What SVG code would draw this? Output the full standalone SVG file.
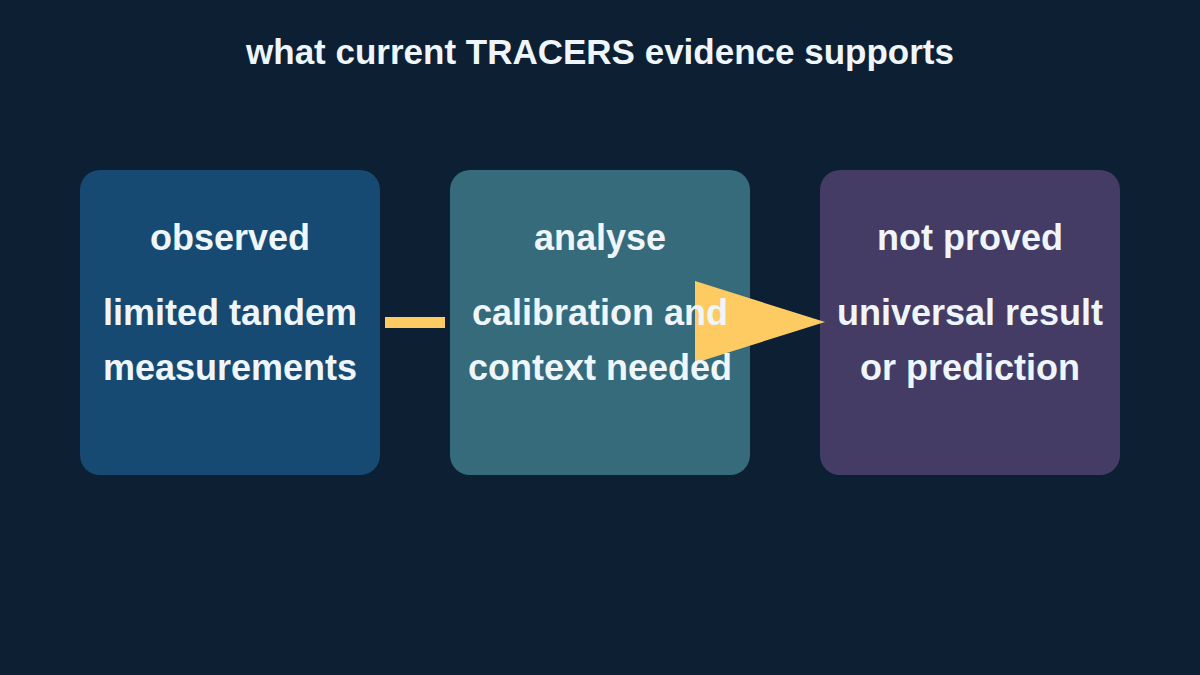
<svg xmlns="http://www.w3.org/2000/svg" width="1200" height="675" viewBox="0 0 1200 675">
<style>
text{font-family:"Liberation Sans",Arial,sans-serif;font-weight:bold;fill:#eef6fb;text-anchor:middle}
.h{font-size:36px}.b{font-size:36px}
</style>
<rect width="1200" height="675" fill="#0d1f33"/>
<text x="600" y="64" font-size="35">what current TRACERS evidence supports</text>
<g id="observed"><rect x="80" y="170" width="300" height="305" rx="20" fill="#174a72"/></g>
<g id="analyse"><rect x="450" y="170" width="300" height="305" rx="20" fill="#366b7c"/></g>
<g id="notproved"><rect x="820" y="170" width="300" height="305" rx="20" fill="#453c66"/></g>
<g id="connectors">
<rect x="385" y="317" width="60" height="11" fill="#fdcb62"/>
<polygon points="695,281 825,322 695,363" fill="#fdcb62"/>
</g>
<g id="observed-text"><text class="h" x="230" y="250">observed</text><text class="b" x="230" y="325">limited tandem</text><text class="b" x="230" y="380">measurements</text></g>
<g id="analyse-text"><text class="h" x="600" y="250">analyse</text><text class="b" x="600" y="325">calibration and</text><text class="b" x="600" y="380">context needed</text></g>
<g id="notproved-text"><text class="h" x="970" y="250">not proved</text><text class="b" x="970" y="325">universal result</text><text class="b" x="970" y="380">or prediction</text></g>
</svg>
